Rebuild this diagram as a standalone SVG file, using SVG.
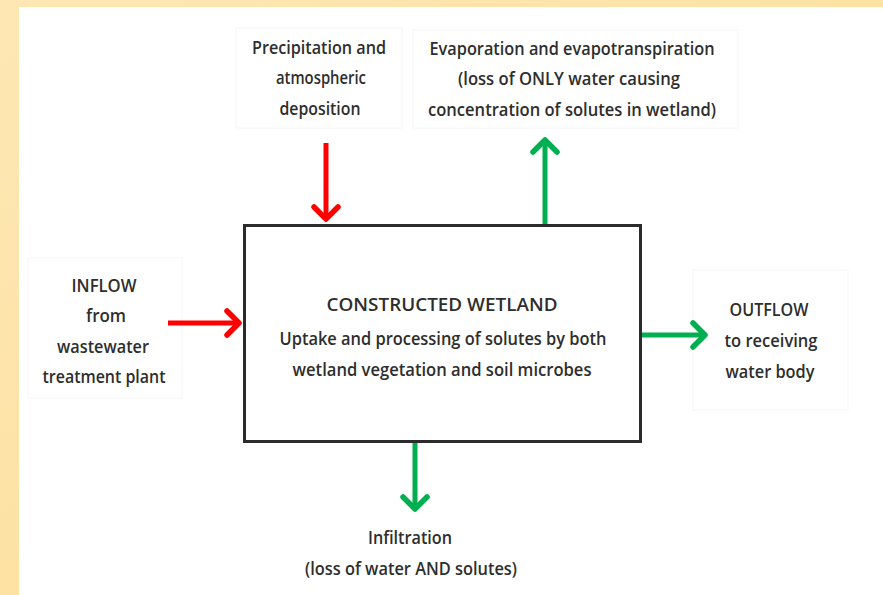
<svg xmlns="http://www.w3.org/2000/svg" width="883" height="595" viewBox="0 0 883 595">
<style>
.t{font-family:"Open Sans","Liberation Sans",sans-serif;font-weight:600;font-size:17.5px;fill:#2e2e2e;text-anchor:middle}
.lb{fill:#fff;stroke:#f6f6f6;stroke-width:1}
.red{stroke:#ff0000;stroke-width:5;fill:none}
.grn{stroke:#00b050;stroke-width:5;fill:none}
</style>
<defs>
<linearGradient id="bg" x1="0" y1="0" x2="1" y2="1">
<stop offset="0" stop-color="#fee7b4"/>
<stop offset="0.5" stop-color="#fde2a4"/>
<stop offset="1" stop-color="#fee5ad"/>
</linearGradient>
<marker id="ar" markerUnits="userSpaceOnUse" viewBox="-16 -16 32 32" markerWidth="32" markerHeight="32" refX="0" refY="0" orient="auto">
<path d="M-12,-12 L0,0 L-12,12" fill="none" stroke="#ff0000" stroke-width="5.5" stroke-linecap="round" stroke-linejoin="round"/>
</marker>
<marker id="ag" markerUnits="userSpaceOnUse" viewBox="-16 -16 32 32" markerWidth="32" markerHeight="32" refX="0" refY="0" orient="auto">
<path d="M-12,-12 L0,0 L-12,12" fill="none" stroke="#00b050" stroke-width="5.5" stroke-linecap="round" stroke-linejoin="round"/>
</marker>
</defs>
<rect x="0" y="0" width="883" height="595" fill="url(#bg)"/>
<rect x="19" y="7" width="864" height="588" fill="#ffffff"/>

<g id="precipitation">
<rect class="lb" x="236" y="28" width="166" height="100"/>
<text class="t" x="319" y="54" textLength="134" lengthAdjust="spacingAndGlyphs">Precipitation and</text>
<text class="t" x="321" y="84" textLength="90" lengthAdjust="spacingAndGlyphs">atmospheric</text>
<text class="t" x="320" y="115" textLength="81" lengthAdjust="spacingAndGlyphs">deposition</text>
</g>

<g id="evaporation">
<rect class="lb" x="413" y="30" width="325" height="98"/>
<text class="t" x="572" y="55" textLength="285" lengthAdjust="spacingAndGlyphs">Evaporation and evapotranspiration</text>
<text class="t" x="569" y="85" textLength="222" lengthAdjust="spacingAndGlyphs">(loss of ONLY water causing</text>
<text class="t" x="572" y="116" textLength="288" lengthAdjust="spacingAndGlyphs">concentration of solutes in wetland)</text>
</g>

<g id="inflow">
<rect class="lb" x="28" y="258" width="154" height="140"/>
<text class="t" x="104" y="292" textLength="65" lengthAdjust="spacingAndGlyphs">INFLOW</text>
<text class="t" x="106" y="322" textLength="40" lengthAdjust="spacingAndGlyphs">from</text>
<text class="t" x="103" y="353" textLength="92" lengthAdjust="spacingAndGlyphs">wastewater</text>
<text class="t" x="104" y="383" textLength="123" lengthAdjust="spacingAndGlyphs">treatment plant</text>
</g>

<g id="wetland">
<rect x="244.5" y="225.5" width="396" height="216" fill="#ffffff" stroke="#2b2b2b" stroke-width="3"/>
<text class="t" x="442" y="311" textLength="231" lengthAdjust="spacingAndGlyphs">CONSTRUCTED WETLAND</text>
<text class="t" x="443" y="345" textLength="327" lengthAdjust="spacingAndGlyphs">Uptake and processing of solutes by both</text>
<text class="t" x="442" y="376" textLength="299" lengthAdjust="spacingAndGlyphs">wetland vegetation and soil microbes</text>
</g>

<g id="outflow">
<rect class="lb" x="693" y="270" width="155" height="140"/>
<text class="t" x="769" y="316" textLength="79" lengthAdjust="spacingAndGlyphs">OUTFLOW</text>
<text class="t" x="771" y="347" textLength="93" lengthAdjust="spacingAndGlyphs">to receiving</text>
<text class="t" x="770" y="378" textLength="89" lengthAdjust="spacingAndGlyphs">water body</text>
</g>

<g id="infiltration">
<text class="t" x="410" y="544" textLength="84" lengthAdjust="spacingAndGlyphs">Infiltration</text>
<text class="t" x="411" y="575" textLength="212" lengthAdjust="spacingAndGlyphs">(loss of water AND solutes)</text>
</g>

<g id="connectors">
<line class="red" x1="326" y1="143" x2="326" y2="219" marker-end="url(#ar)"/>
<line class="red" x1="168" y1="323" x2="239" y2="323" marker-end="url(#ar)"/>
<line class="grn" x1="545" y1="224" x2="545" y2="140" marker-end="url(#ag)"/>
<line class="grn" x1="642" y1="335" x2="705" y2="335" marker-end="url(#ag)"/>
<line class="grn" x1="415" y1="443" x2="415" y2="509" marker-end="url(#ag)"/>
</g>
</svg>
